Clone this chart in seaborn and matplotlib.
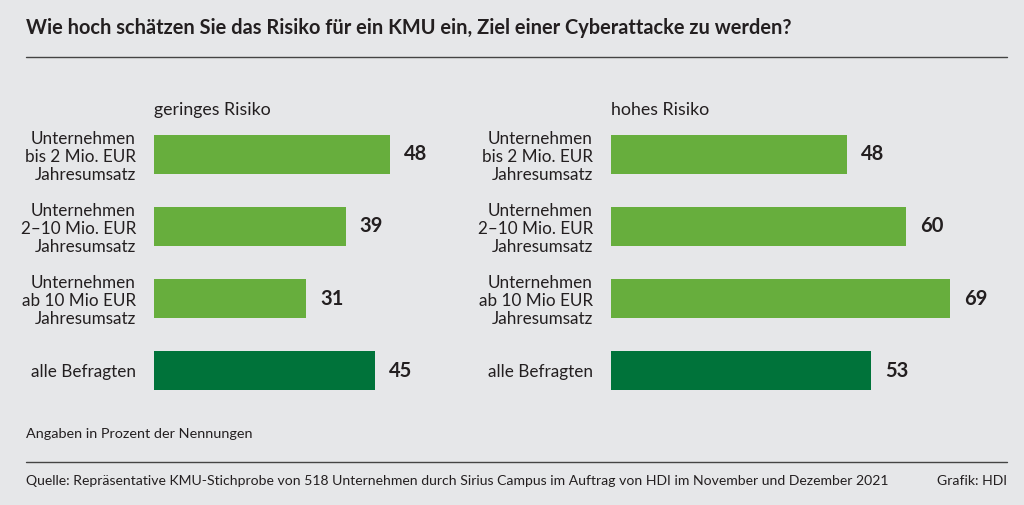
import matplotlib
matplotlib.use("Agg")
import matplotlib.pyplot as plt
import seaborn as sns
import pandas as pd
from matplotlib.lines import Line2D

# data
categories = [
    "Unternehmen\nbis 2 Mio. EUR\nJahresumsatz",
    "Unternehmen\n2–10 Mio. EUR\nJahresumsatz",
    "Unternehmen\nab 10 Mio EUR\nJahresumsatz",
    "alle Befragten",
]
geringes_risiko = [48, 39, 31, 45]
hohes_risiko = [48, 60, 69, 53]
panel_titles = ["geringes Risiko", "hohes Risiko"]

bg = "#e6e7e9"
light_green = "#67ae3d"
dark_green = "#00733a"
text_col = "#231f20"
colors = [light_green, light_green, light_green, dark_green]

sns.set_theme(style="white")
plt.rcParams["font.family"] = ["Lato", "DejaVu Sans"]

W, H = 1024, 505
fig = plt.figure(figsize=(W / 100, H / 100), dpi=100, facecolor=bg)

def px_rect(x0, y_top, w, h):
    return [x0 / W, 1 - (y_top + h) / H, w / W, h / H]

ax_left = fig.add_axes(px_rect(154, 118, 393, 289))
ax_right = fig.add_axes(px_rect(611, 118, 393, 289))

for ax, vals, title in [(ax_left, geringes_risiko, panel_titles[0]),
                        (ax_right, hohes_risiko, panel_titles[1])]:
    df = pd.DataFrame({"cat": categories, "val": vals})
    sns.barplot(data=df, x="val", y="cat", hue="cat", palette=colors,
                legend=False, width=0.54, ax=ax, saturation=1, linewidth=0)
    ax.set_facecolor(bg)
    ax.set_xlim(0, 80)
    ax.set_xlabel("")
    ax.set_ylabel("")
    ax.set_xticks([])
    for s in ax.spines.values():
        s.set_visible(False)
    ax.tick_params(axis="y", length=0, pad=13, labelsize=12.3, labelcolor=text_col)
    for lab in ax.get_yticklabels():
        lab.set_horizontalalignment("right")
        lab.set_multialignment("right")
        lab.set_linespacing(1.15)
    for cont in ax.containers:
        ax.bar_label(cont, padding=10, fontsize=14.5, fontweight="bold", color=text_col)
    ax.text(0, 1.0, title, transform=ax.transAxes, ha="left", va="bottom",
            fontsize=12.8, color=text_col)

# title and rules
fig.text(26 / W, 1 - 28 / H, "Wie hoch schätzen Sie das Risiko für ein KMU ein, Ziel einer Cyberattacke zu werden?",
         ha="left", va="center", fontsize=14.4, fontweight="bold", color=text_col)
fig.add_artist(Line2D([26 / W, 1007 / W], [1 - 57 / H, 1 - 57 / H], color="#444444", lw=1))
fig.add_artist(Line2D([26 / W, 1007 / W], [1 - 462 / H, 1 - 462 / H], color="#444444", lw=1))

fig.text(26 / W, 1 - 434 / H, "Angaben in Prozent der Nennungen",
         ha="left", va="center", fontsize=10.4, color=text_col)
fig.text(26 / W, 1 - 481 / H,
         "Quelle: Repräsentative KMU-Stichprobe von 518 Unternehmen durch Sirius Campus im Auftrag von HDI im November und Dezember 2021",
         ha="left", va="center", fontsize=10.1, color=text_col)
fig.text(1007 / W, 1 - 481 / H, "Grafik: HDI", ha="right", va="center", fontsize=10.1, color=text_col)

fig.savefig("out.png", dpi=100, facecolor=bg)
